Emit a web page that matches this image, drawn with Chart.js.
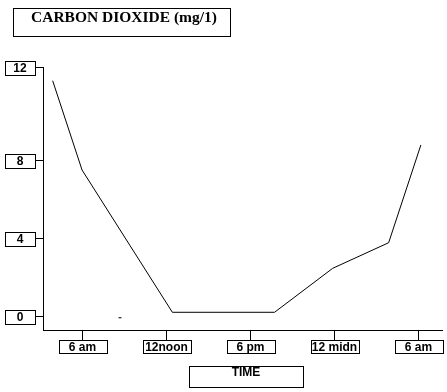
<!DOCTYPE html>
<html>
<head>
<meta charset="utf-8">
<script src="https://cdn.jsdelivr.net/npm/chart.js@4/dist/chart.umd.min.js"></script>
<style>
  body { margin: 0; background: #fff; }
  canvas { display: block; }
</style>
</head>
<body>
<canvas id="co2" width="447" height="392"></canvas>
<script>
// hours since midnight of day 1 (30 = 6 am next day)
const hours = [3.9, 6, 12.45, 19.75, 23.9, 27.9, 30.2];
const co2 = [12.04, 7.47, 0.19, 0.19, 2.44, 3.75, 8.75];
// the little stray mark near the bottom
const strayHours = [8.71];
const strayValues = [-0.09];

const xTickHours = [6, 12, 18, 24, 30];
const xTickLabels = ["6 am", "12noon", "6 pm", "12 midn", "6 am"];
const yTickValues = [0, 4, 8, 12];
const yTickLabels = ["0", "4", "8", "12"];

function boxText(ctx, text, cx, cy, w, h, font) {
  ctx.strokeRect(Math.round(cx - w / 2) + 0.5, Math.round(cy - h / 2) + 0.5, w, h);
  ctx.font = font;
  ctx.fillText(text, cx, cy + 1);
}

const boxes = {
  id: "boxes",
  afterDraw(chart) {
    const ctx = chart.ctx;
    const x = chart.scales.x;
    const y = chart.scales.y;
    ctx.save();
    ctx.strokeStyle = "#000";
    ctx.fillStyle = "#000";
    ctx.lineWidth = 1;
    ctx.textAlign = "center";
    ctx.textBaseline = "middle";

    // title
    ctx.strokeRect(13.5, 8.5, 217, 28);
    ctx.font = "bold 15.5px 'Liberation Serif'";
    ctx.textBaseline = "alphabetic";
    ctx.fillText("CARBON DIOXIDE (mg/1)", 124, 21.5);
    ctx.textBaseline = "middle";

    // y tick labels, the top one sits at the end of the axis
    yTickValues.forEach((v, i) => {
      let py = y.getPixelForValue(v);
      if (i === yTickValues.length - 1) py = y.top;
      py = Math.round(py) + 0.5;
      ctx.beginPath();
      ctx.moveTo(35, py);
      ctx.lineTo(y.right, py);
      ctx.stroke();
      boxText(ctx, yTickLabels[i], 20, py, 30, 14, "bold 12px 'Liberation Sans'");
    });

    // x tick labels
    xTickHours.forEach((h, i) => {
      const px = Math.round(x.getPixelForValue(h)) + 0.5;
      ctx.beginPath();
      ctx.moveTo(px, x.top);
      ctx.lineTo(px, x.top + 10);
      ctx.stroke();
      boxText(ctx, xTickLabels[i], px, x.top + 16.5, 48, 13, "bold 12px 'Liberation Sans'");
    });

    // axis title
    ctx.strokeRect(189.5, 366.5, 114, 21);
    ctx.font = "bold 12px 'Liberation Sans'";
    ctx.fillText("TIME", 246, 373);
    ctx.restore();
  }
};

new Chart(document.getElementById("co2").getContext("2d"), {
  type: "line",
  data: {
    datasets: [
      {
        data: hours.map((h, i) => ({ x: h, y: co2[i] })),
        borderColor: "#000",
        borderWidth: 1,
        pointRadius: 0,
        tension: 0,
        fill: false,
      },
      {
        data: strayHours.map((h, i) => ({ x: h, y: strayValues[i] })),
        showLine: false,
        pointStyle: "line",
        pointRadius: 1.5,
        pointBorderColor: "#000",
        pointBorderWidth: 1,
      },
    ],
  },
  options: {
    responsive: false,
    animation: false,
    layout: { padding: { left: 43, top: 67, right: 5, bottom: 62 } },
    plugins: { legend: { display: false }, tooltip: { enabled: false } },
    scales: {
      x: {
        type: "linear",
        min: 3.21,
        max: 31.71,
        grid: { display: false, drawTicks: false },
        ticks: { display: false },
        border: { display: true, color: "#000", width: 1 },
        afterFit(s) { s.height = 0; },
      },
      y: {
        min: -0.716,
        max: 12.74,
        grid: { display: false, drawTicks: false },
        ticks: { display: false },
        border: { display: true, color: "#000", width: 1 },
        afterFit(s) { s.width = 0; },
      },
    },
  },
  plugins: [boxes],
});
</script>
</body>
</html>
